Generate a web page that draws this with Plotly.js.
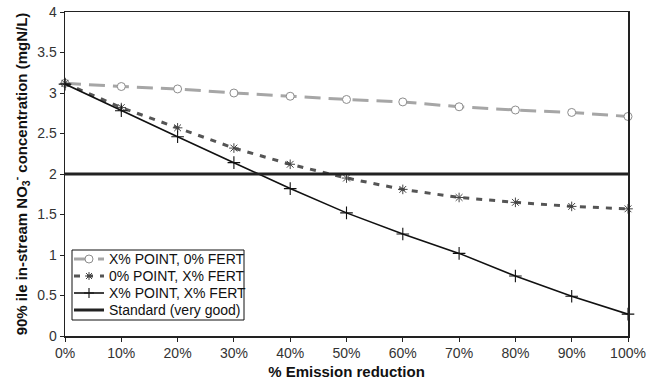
<!DOCTYPE html>
<html><head><meta charset="utf-8">
<script src="https://cdn.plot.ly/plotly-3.0.1.min.js"></script>
<style>body{margin:0;background:#fff}#c{width:656px;height:386px}</style>
</head><body><div id="c"></div>
<script>
var reduction = [0,10,20,30,40,50,60,70,80,90,100];
var pointOnly = [3.12,3.08,3.05,3.00,2.96,2.92,2.89,2.83,2.79,2.76,2.71];
var fertOnly = [3.12,2.82,2.57,2.32,2.12,1.95,1.81,1.71,1.65,1.60,1.57];
var both = [3.11,2.78,2.46,2.14,1.82,1.52,1.26,1.02,0.74,0.49,0.27];
var standard = [2,2,2,2,2,2,2,2,2,2,2];
var names = ['X% POINT, 0% FERT','0% POINT, X% FERT','X% POINT, X% FERT','Standard (very good)'];

var styles = [
 {line:{color:'#a6a6a6',width:3,dash:'16px,8px'},
  marker:{symbol:'circle',size:8,color:'#fff',line:{color:'#8c8c8c',width:1}}},
 {line:{color:'#555',width:3,dash:'6px,7px'},
  marker:{symbol:'asterisk-open',size:8,color:'#444',line:{color:'#444',width:1}}},
 {line:{color:'#111',width:1.6},
  marker:{symbol:'cross-thin-open',size:9,color:'#111',line:{color:'#111',width:1.1}}},
 {line:{color:'#222',width:3}}
];
var series = [pointOnly, fertOnly, both, standard];
var traces = series.map(function(s,i){
  var t = {x:reduction,y:s,name:names[i],mode:i<3?'lines+markers':'lines',cliponaxis:false,
    showlegend:false,line:styles[i].line};
  if (styles[i].marker) t.marker = styles[i].marker;
  return t;
});

// custom legend (pixel geometry of plot area: x 65..628, y 12..336)
var L=65,R=628,T=12,B=336;
function px(v){return (v-L)/(R-L);}
function py(v){return (B-v)/(B-T);}
var rowY=[259,276,293,310];
var shapes=[{type:'rect',xref:'paper',yref:'paper',x0:px(72),x1:px(244),y0:py(320),y1:py(250),
  line:{color:'#111',width:1},fillcolor:'#fff',layer:'above'}];
var annotations=[];
var glyphs=[
 {type:'circle',path:null},
 {type:'path',path:'M-4,0H4M0,-4V4M-3,-3L3,3M-3,3L3,-3'},
 {type:'path',path:'M-5,0H5M0,-5V5'},
 null];
rowY.forEach(function(yv,i){
  shapes.push({type:'line',xref:'paper',yref:'paper',x0:px(74),x1:px(104),y0:py(yv),y1:py(yv),
    line:{color:styles[i].line.color,width:styles[i].line.width,dash:styles[i].line.dash||'solid'}});
  var g=glyphs[i];
  if(g){
    var m=styles[i].marker;
    var s={xref:'paper',yref:'paper',xsizemode:'pixel',ysizemode:'pixel',xanchor:px(89),yanchor:py(yv),
      line:{color:m.line.color,width:m.line.width}};
    if(g.type==='circle'){s.type='circle';s.x0=-4;s.x1=4;s.y0=-4;s.y1=4;s.fillcolor='#fff';}
    else{s.type='path';s.path=g.path;}
    shapes.push(s);
  }
  annotations.push({xref:'paper',yref:'paper',x:px(107),y:py(yv),xanchor:'left',yanchor:'middle',
    text:names[i],showarrow:false,font:{size:14,color:'#111'}});
});

var layout = {
 width:656,height:386,margin:{l:L,r:656-R,t:T,b:386-B},
 paper_bgcolor:'#fff',plot_bgcolor:'#fff',
 font:{family:'Liberation Sans, Arial, sans-serif',size:14,color:'#333'},
 showlegend:false,shapes:shapes,annotations:annotations,
 xaxis:{range:[0,100],tickvals:reduction,ticktext:reduction.map(function(v){return v+'%';}),
   showgrid:false,zeroline:false,showline:true,linecolor:'#222',linewidth:1.5,mirror:true,
   ticks:'outside',ticklen:4,tickcolor:'#222',
   title:{text:'% Emission reduction',font:{size:15,color:'#111',weight:'bold'},standoff:6}},
 yaxis:{range:[0,4],dtick:0.5,showgrid:false,zeroline:false,showline:true,linecolor:'#222',linewidth:1.5,mirror:true,
   ticks:'outside',ticklen:4,tickcolor:'#222',
   title:{text:'<b>90% ile in-stream NO<sub>3</sub><sup>-</sup> concentration (mgN/L)</b>',font:{size:15,color:'#111'},standoff:6}}
};
Plotly.newPlot('c',traces,layout,{displayModeBar:false,staticPlot:true});
</script></body></html>
